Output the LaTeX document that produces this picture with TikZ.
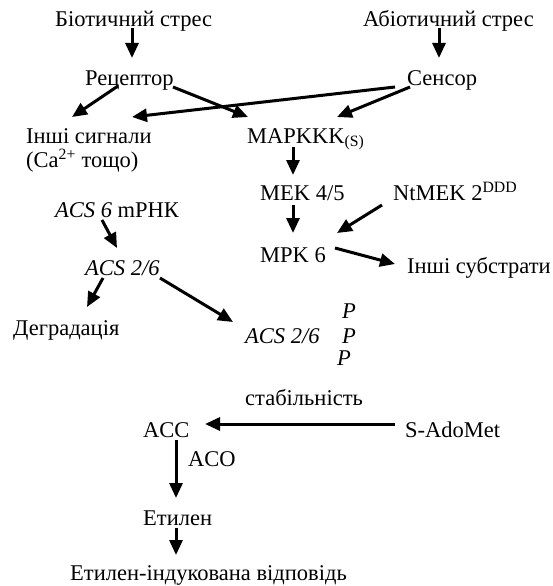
\documentclass[tikz,border=0pt]{standalone}
\usepackage{fontspec}
\setmainfont{Liberation Serif}
\usetikzlibrary{arrows.meta}
\begin{document}
\begin{tikzpicture}[x=1pt,y=-1pt,
  lbl/.style={anchor=base west,inner sep=0pt,font=\fontsize{22.5}{27}\selectfont},
  arr/.style={line width=3pt,-{Triangle[length=15pt,width=13pt]}}]
\useasboundingbox (0,0) rectangle (553,586);
% nodes
\node[lbl] (bio) at (55,27) {Біотичний стрес};
\node[lbl] (abio) at (363,27) {Абіотичний стрес};
\node[lbl] (rec) at (85,85) {Рецептор};
\node[lbl] (sen) at (407,85) {Сенсор};
\node[lbl] (oth) at (26,143) {Інші сигнали};
\node[lbl] (oth2) at (26,167) {(Ca\textsuperscript{2+} тощо)};
\node[lbl] (mapk) at (247,143) {MAPKKK\textsubscript{(S)}};
\node[lbl] (mek) at (260,200) {MEK 4/5};
\node[lbl] (ntmek) at (393,200) {NtMEK 2\textsuperscript{DDD}};
\node[lbl] (mpk) at (260,262) {MPK 6};
\node[lbl] (acs6) at (55,217) {\textit{ACS 6} mРНК};
\node[lbl] (acs26) at (85,275) {\textit{ACS 2/6}};
\node[lbl] (deg) at (13,335) {Деградація};
\node[lbl] (subs) at (407,273) {Інші субстрати};
\node[lbl] (acsp) at (245,343) {\textit{ACS 2/6}};
\node[lbl] (p1) at (342,318) {\textit{P}};
\node[lbl] (p2) at (342,343) {\textit{P}};
\node[lbl] (p3) at (337,365) {\textit{P}};
\node[lbl] (stab) at (245,405) {стабільність};
\node[lbl] (acc) at (143,437) {ACC};
\node[lbl] (ado) at (405,437) {S-AdoMet};
\node[lbl] (aco) at (188,466) {ACO};
\node[lbl] (eth) at (143,525) {Етилен};
\node[lbl] (resp) at (70,580) {Етилен-індукована відповідь};
% arrows
\draw[arr] ([shift={(77,1)}]bio.base west) -- ([shift={(47,-27)}]rec.base west);
\draw[arr] ([shift={(76,1)}]abio.base west) -- ([shift={(32,-27)}]sen.base west);
\draw[arr] ([shift={(33,1)}]rec.base west) -- ([shift={(46,-26)}]oth.base west);
\draw[arr] ([shift={(88,2)}]rec.base west) -- ([shift={(1,-26)}]mapk.base west);
\draw[arr] ([shift={(-12,2)}]sen.base west) -- ([shift={(106,-26)}]oth.base west);
\draw[arr] ([shift={(3,2)}]sen.base west) -- ([shift={(90,-26)}]mapk.base west);
\draw[arr] ([shift={(46,4)}]mapk.base west) -- ([shift={(33,-25)}]mek.base west);
\draw[arr] ([shift={(33,5)}]mek.base west) -- ([shift={(33,-29)}]mpk.base west);
\draw[arr] ([shift={(-11,5)}]ntmek.base west) -- ([shift={(77,-29)}]mpk.base west);
\draw[arr] ([shift={(75,-14)}]mpk.base west) -- ([shift={(-12,-9)}]subs.base west);
\draw[arr] ([shift={(47,3)}]acs6.base west) -- ([shift={(32,-27)}]acs26.base west);
\draw[arr] ([shift={(18,3)}]acs26.base west) -- ([shift={(74,-28)}]deg.base west);
\draw[arr] ([shift={(75,3)}]acs26.base west) -- ([shift={(-12,-21)}]acsp.base west);
\draw[arr] ([shift={(-10,-13)}]ado.base west) -- ([shift={(62,-13)}]acc.base west);
\draw[arr] ([shift={(33,3)}]acc.base west) -- ([shift={(33,-27)}]eth.base west);
\draw[arr] ([shift={(33,3)}]eth.base west) -- ([shift={(106,-25)}]resp.base west);
\end{tikzpicture}
\end{document}
